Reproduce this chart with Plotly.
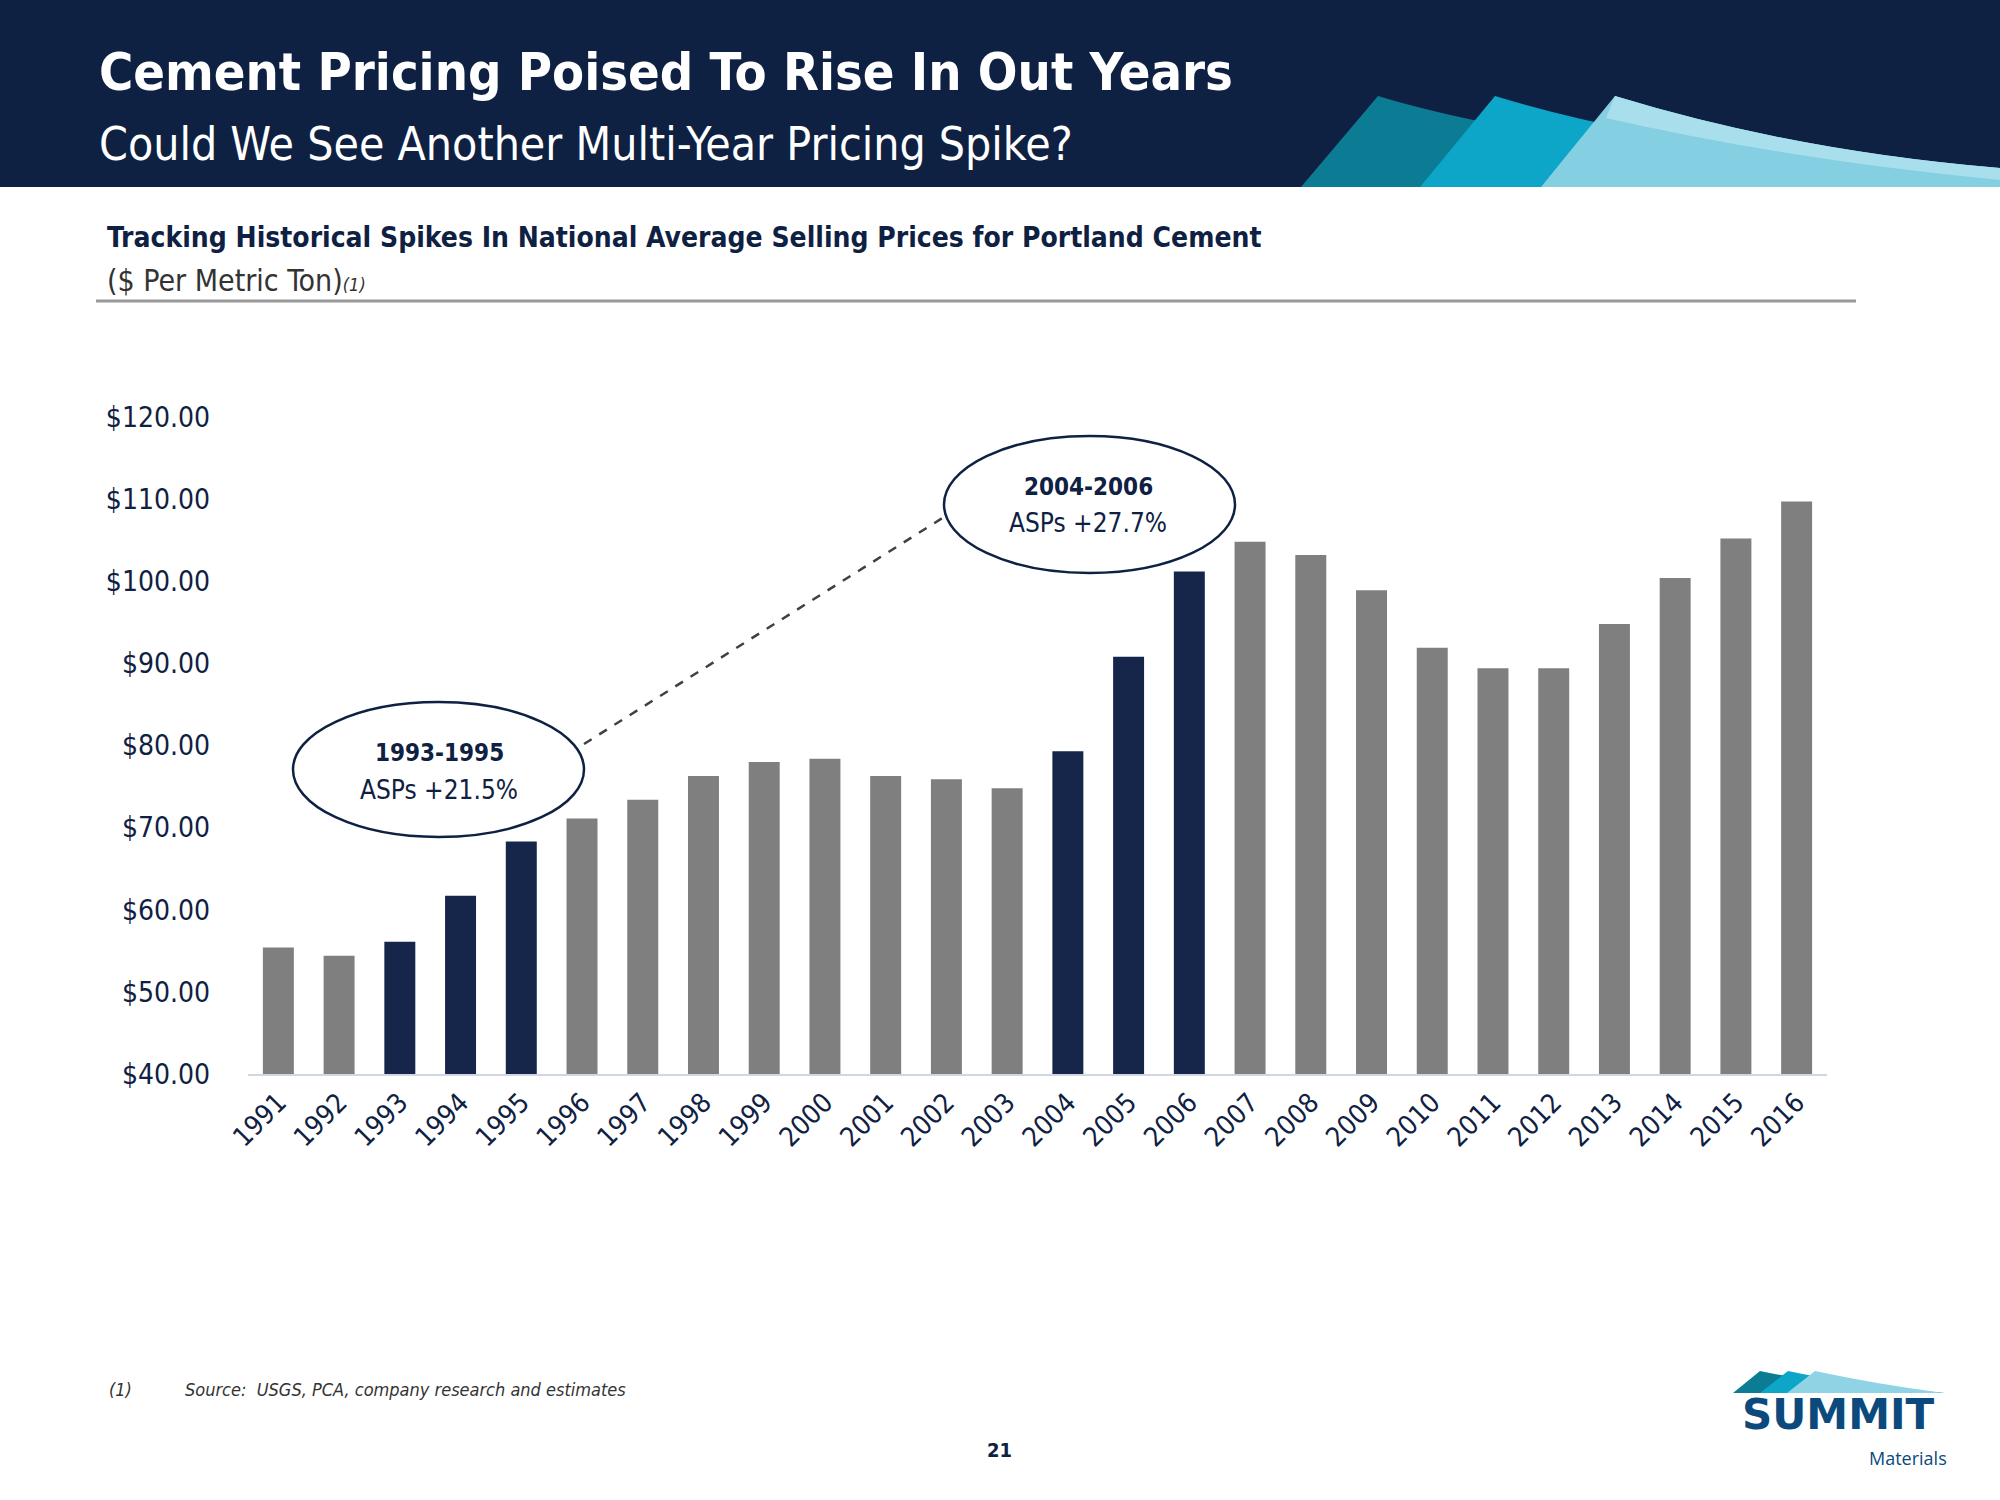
import plotly.graph_objects as go

years = [str(y) for y in range(1991, 2017)]
prices = [55.4, 54.4, 56.1, 61.7, 68.3, 71.1, 73.4, 76.3, 78.0, 78.4, 76.3, 75.9, 74.8,
          79.3, 90.8, 101.2, 104.8, 103.2, 98.9, 91.9, 89.4, 89.4, 94.8, 100.4, 105.2, 109.7]
highlight_years = ["1993", "1994", "1995", "2004", "2005", "2006"]
y_ticks = [40, 50, 60, 70, 80, 90, 100, 110, 120]
y_tick_labels = ["$%.2f" % v for v in y_ticks]

title = "Cement Pricing Poised To Rise In Out Years"
subtitle = "Could We See Another Multi-Year Pricing Spike?"
chart_title = "Tracking Historical Spikes In National Average Selling Prices for Portland Cement"
units = "($ Per Metric Ton)<i><span style='font-size:18px'>(1)</span></i>"
spike1 = ("1993-1995", "ASPs +21.5%")
spike2 = ("2004-2006", "ASPs +27.7%")
footnote_num = "(1)"
footnote = "Source:  USGS, PCA, company research and estimates"
page_num = "21"

NAVY = "#0f2142"
GRAY = "#7f7f7f"
BARNAVY = "#15264a"
FONT = "Liberation Sans Narrow, Arial Narrow, DejaVu Sans Condensed, sans-serif"

W, H = 2000, 1500
L, R, T, B = 248, 173, 417, 426
PW, PH = W - L - R, H - T - B

def px(x):
    return (x - L) / PW

def py(y):
    return (H - B - y) / PH

colors = [BARNAVY if y in highlight_years else GRAY for y in years]

fig = go.Figure(go.Bar(x=years, y=prices, marker=dict(color=colors, line=dict(width=0)),
                       hoverinfo="x+y"))

shapes = []
# header band
shapes.append(dict(type="rect", xref="paper", yref="paper", x0=px(0), x1=px(W), y0=py(0), y1=py(187),
                   fillcolor=NAVY, line=dict(width=0), layer="below"))

def sail(bx, pkx, pky, ey, color):
    path = "M %f %f L %f %f Q %f %f %f %f L %f %f Z" % (
        px(bx), py(187), px(pkx), py(pky), px(pkx + 180), py(pky + 55), px(W), py(ey), px(W), py(187))
    return dict(type="path", xref="paper", yref="paper", path=path, fillcolor=color, line=dict(width=0))

shapes.append(sail(1301, 1378, 96, 187, "#0b7c93"))
shapes.append(sail(1420, 1495, 96, 180, "#0ea6c8"))
shapes.append(sail(1541, 1615, 96, 168, "#84cfe2"))
# lighter highlight stripe on top of sail 3
shapes.append(dict(type="path", xref="paper", yref="paper",
                   path="M %f %f Q %f %f %f %f L %f %f Q %f %f %f %f Z" % (
                       px(1615), py(96), px(1795), py(151), px(W), py(168),
                       px(W), py(180), px(1790), py(160), px(1606), py(118)),
                   fillcolor="#a9dfec", line=dict(width=0)))

# separator line
shapes.append(dict(type="line", xref="paper", yref="paper", x0=px(96), x1=px(1856), y0=py(301), y1=py(301),
                   line=dict(color="#999999", width=3)))
# ellipses
shapes.append(dict(type="circle", xref="paper", yref="paper", x0=px(293), x1=px(584), y0=py(702), y1=py(837),
                   line=dict(color=NAVY, width=2.5)))
shapes.append(dict(type="circle", xref="paper", yref="paper", x0=px(944), x1=px(1235), y0=py(436), y1=py(573),
                   line=dict(color=NAVY, width=2.5)))
# dashed connector
shapes.append(dict(type="line", xref="paper", yref="paper", x0=px(584), y0=py(744), x1=px(944), y1=py(517),
                   line=dict(color="#404040", width=2.5, dash="dash")))

# logo sails
def small_sail(bx, pkx, color):
    path = "M %f %f L %f %f Q %f %f %f %f Z" % (
        px(bx), py(1393), px(pkx), py(1371), px(pkx + 60), py(1384), px(1944), py(1393))
    return dict(type="path", xref="paper", yref="paper", path=path, fillcolor=color, line=dict(width=0))

shapes.append(small_sail(1733, 1760, "#0b7c93"))
shapes.append(small_sail(1760, 1788, "#0ea6c8"))
shapes.append(small_sail(1787, 1815, "#8fd3e4"))

annotations = []
def txt(x, y, text, size, color, anchor="left", bold=False, italic=False, family=FONT):
    t = text
    if bold:
        t = "<b>%s</b>" % t
    if italic:
        t = "<i>%s</i>" % t
    annotations.append(dict(xref="paper", yref="paper", x=px(x), y=py(y), text=t, showarrow=False,
                            xanchor=anchor, yanchor="middle", borderpad=0,
                            font=dict(size=size, color=color, family=family)))

txt(98, 72, title, 52, "white", bold=True)
txt(98, 144, subtitle, 46, "white")
txt(106, 237, chart_title, 28, NAVY, bold=True)
txt(106, 280, units, 30, "#333333")
txt(439, 753, spike1[0], 24, NAVY, anchor="center", bold=True)
txt(439, 790, spike1[1], 26, NAVY, anchor="center")
txt(1088, 487, spike2[0], 24, NAVY, anchor="center", bold=True)
txt(1088, 523, spike2[1], 26, NAVY, anchor="center")
txt(108, 1389, footnote_num, 18, "#333333", italic=True)
txt(184, 1389, footnote, 18, "#333333", italic=True)
txt(999, 1450, page_num, 20, NAVY, anchor="center", bold=True)
txt(1838, 1414, "SUMMIT", 42, "#0c4a7d", anchor="center", bold=True, family="Arial Black, DejaVu Sans, sans-serif")
txt(1948, 1458, "Materials", 18, "#0c4a7d", anchor="right", family="Open Sans, sans-serif")

fig.update_layout(
    width=W, height=H,
    margin=dict(l=L, r=R, t=T, b=B, pad=0),
    paper_bgcolor="white", plot_bgcolor="white",
    bargap=0.49,
    showlegend=False,
    shapes=shapes,
    annotations=annotations,
    font=dict(family=FONT, color=NAVY),
    xaxis=dict(type="category", tickangle=-45, tickfont=dict(size=27, color=NAVY),
               showline=True, linecolor="#d0d6e2", linewidth=2, ticks="", showgrid=False),
    yaxis=dict(range=[40, 120], tickvals=y_ticks, ticktext=y_tick_labels, tickfont=dict(size=28, color=NAVY),
               showline=False, showgrid=False, zeroline=False, ticks="", ticklabelstandoff=37),
)

fig.write_html("out.html", config={"displayModeBar": False},
               post_script="document.body.style.margin='0px';")
